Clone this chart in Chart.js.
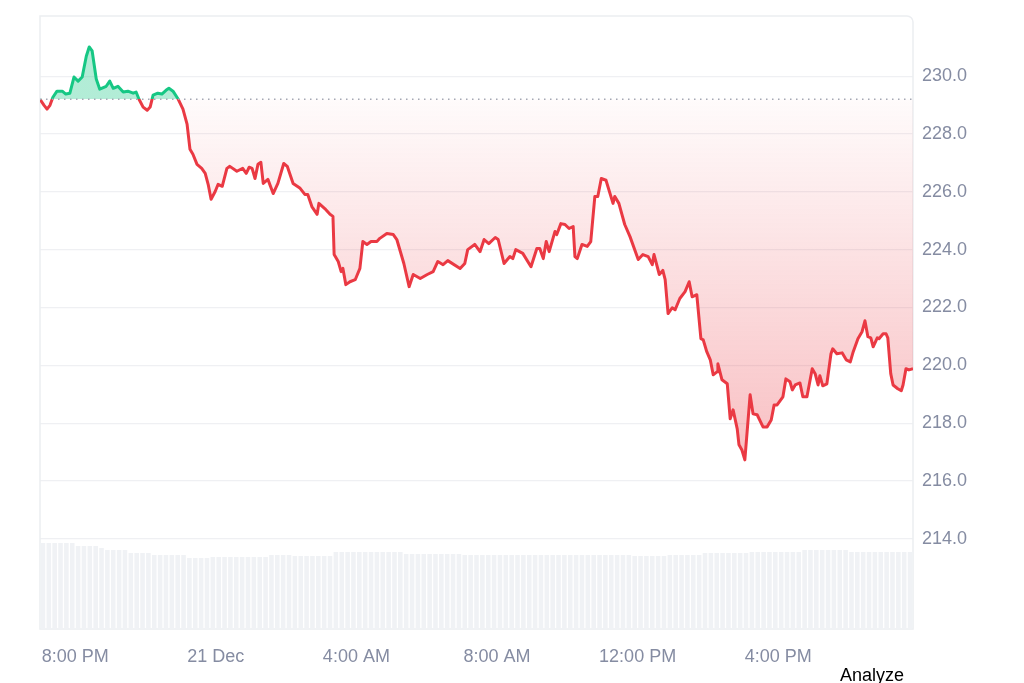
<!DOCTYPE html>
<html>
<head>
<meta charset="utf-8">
<title>Price chart</title>
<script src="https://cdn.jsdelivr.net/npm/chart.js@4.4.1/dist/chart.umd.min.js"></script>
<style>
    html, body { margin: 0; padding: 0; background: #ffffff; }
    #wrap { position: relative; width: 1024px; height: 683px; overflow: hidden; }
    #analyze { position: absolute; left: 840px; top: 666px; font: 18px Arial, "Liberation Sans", sans-serif; line-height: 18px; color: #000000; }
</style>
</head>
<body>
<div id="wrap">
    <canvas id="priceChart" width="1024" height="683"></canvas>
    <div id="analyze">Analyze</div>
</div>
<script>
// minutes after 19:00 on 20 Dec
const priceTimes = [0,7,12,17,22,29,38,44,51,58,65,72,79,84,89,96,102,113,119,125,133,142,150,159,164,169,176,183,188,193,201,208,215,220,227,236,244,251,256,261,268,276,282,287,292,299,304,311,319,324,336,346,352,357,362,367,372,377,381,389,398,406,416,422,432,444,452,457,464,473,476,486,495,500,502,509,514,517,522,529,538,546,551,558,565,575,580,592,603,609,621,630,637,649,661,671,679,688,696,717,725,730,742,751,758,766,777,782,792,802,807,812,824,838,848,853,859,864,869,879,882,889,896,903,910,913,917,925,934,940,947,952,958,966,978,981,988,998,1007,1021,1029,1038,1045,1048,1057,1063,1067,1072,1079,1084,1092,1101,1108,1113,1121,1128,1132,1138,1144,1149,1156,1157,1164,1173,1178,1183,1190,1193,1198,1203,1212,1217,1224,1234,1241,1248,1253,1258,1268,1273,1280,1284,1289,1297,1302,1309,1318,1323,1328,1331,1336,1343,1350,1353,1360,1369,1376,1383,1388,1396,1403,1408,1413,1418,1422,1429,1432,1439,1444,1447,1452,1456,1464,1470,1473,1478,1483,1490];
const priceValues = [229.20,228.99,228.86,228.99,229.27,229.48,229.48,229.38,229.41,229.97,229.83,229.97,230.69,231.01,230.87,229.90,229.55,229.65,229.83,229.58,229.65,229.45,229.48,229.41,229.45,229.20,228.93,228.82,228.93,229.34,229.41,229.38,229.51,229.58,229.48,229.20,228.86,228.34,227.47,227.30,226.95,226.81,226.64,226.26,225.74,226.01,226.26,226.19,226.81,226.88,226.71,226.81,226.64,226.85,226.81,226.46,226.95,227.02,226.29,226.43,225.94,226.29,226.98,226.88,226.29,226.12,225.91,225.91,225.49,225.22,225.60,225.42,225.22,225.15,223.83,223.59,223.24,223.35,222.79,222.89,222.96,223.35,224.28,224.18,224.28,224.28,224.39,224.56,224.52,224.35,223.52,222.72,223.14,223.00,223.14,223.24,223.59,223.48,223.62,223.35,223.52,224.00,224.18,223.93,224.35,224.21,224.42,224.35,223.52,223.76,223.69,224.00,223.87,223.41,224.04,224.04,223.69,224.28,223.93,224.63,224.52,224.90,224.87,224.73,224.80,223.76,223.69,224.18,224.11,224.28,225.84,225.84,226.46,226.40,225.60,225.84,225.60,224.87,224.45,223.66,223.83,223.76,223.48,223.83,223.14,223.28,222.96,221.79,221.99,221.92,222.31,222.55,222.89,222.37,222.44,220.92,220.88,220.47,220.19,219.67,219.78,220.05,219.50,219.36,218.15,218.46,217.80,217.25,217.07,216.73,218.98,218.32,218.29,217.87,217.87,218.11,218.63,218.63,218.91,219.53,219.43,219.15,219.32,219.39,218.91,218.91,219.88,219.71,219.32,219.64,219.29,219.36,220.40,220.57,220.40,220.43,220.19,220.12,220.47,220.92,221.16,221.54,220.99,220.95,220.64,220.95,220.92,221.09,221.09,220.95,219.71,219.32,219.19,219.12,219.32,219.88,219.84,219.88];

// volume per 10-minute bar
const volumeValues = [
    8.6,8.6,8.6,8.6,8.6,8.6, 8.3,8.3,8.3,8.3, 8.1, 7.9,7.9,7.9,7.9,
    7.6,7.6,7.6,7.6, 7.4,7.4,7.4,7.4,7.4,7.4, 7.1,7.1,7.1,7.1,
    7.2,7.2,7.2,7.2,7.2,7.2,7.2,7.2,7.2,7.2, 7.4,7.4,7.4,7.4,
    7.3,7.3,7.3,7.3,7.3,7.3,7.3, 7.7,7.7,7.7,7.7,7.7,7.7,7.7,7.7,7.7,7.7,7.7,7.7,
    7.5,7.5,7.5,7.5,7.5,7.5,7.5,7.5,7.5,7.5,
    7.4,7.4,7.4,7.4,7.4,7.4,7.4,7.4,7.4,7.4,7.4,7.4,7.4,7.4,7.4,7.4,7.4,7.4,7.4,7.4,7.4,7.4,7.4,7.4,
    7.4,7.4,7.4,7.4,7.4,7.3,7.3,7.3,7.3,7.3,7.3,7.4,7.4,7.4,7.4,7.4,7.4,
    7.6,7.6,7.6,7.6,7.6,7.6,7.6,7.6, 7.7,7.7,7.7,7.7,7.7,7.7,7.7,7.7,7.7,
    7.9,7.9,7.9,7.9,7.9,7.9,7.9,7.9, 7.7,7.7,7.7,7.7,7.7,7.7,7.7,7.7,7.7,7.7,7.7
];
const volumeTimes = volumeValues.map((v, i) => 5 + i * 10);

const xTickValues = [60, 300, 540, 780, 1020, 1260];
const xTickLabels = ['8:00 PM', '21 Dec', '4:00 AM', '8:00 AM', '12:00 PM', '4:00 PM'];
const yTickValues = [214, 216, 218, 220, 222, 224, 226, 228, 230];

const OPEN_PRICE = 229.2;
const X_MIN = 0, X_MAX = 1490;
const Y_MIN = 210.88, Y_MAX = 232.08;
const VOL_MAX = 61.3;

const GREEN = '#16c784';
const RED = '#ea3943';
const LABEL_COLOR = '#858ca2';
const LABEL_FONT = { family: 'Arial, "Liberation Sans", sans-serif', size: 18 };

function baseFraction(chart) {
    const area = chart.chartArea;
    const y = chart.scales.y.getPixelForValue(OPEN_PRICE);
    return Math.min(1, Math.max(0, (y - area.top) / (area.bottom - area.top)));
}

function strokeColor(context) {
    const chart = context.chart;
    if (!chart.chartArea || !chart.scales.y) return RED;
    const area = chart.chartArea;
    const f = baseFraction(chart);
    const g = chart.ctx.createLinearGradient(0, area.top, 0, area.bottom);
    g.addColorStop(0, GREEN);
    g.addColorStop(f, GREEN);
    g.addColorStop(f, RED);
    g.addColorStop(1, RED);
    return g;
}

function fillColor(context) {
    const chart = context.chart;
    if (!chart.chartArea || !chart.scales.y) return 'rgba(234,57,67,0.1)';
    const area = chart.chartArea;
    const f = baseFraction(chart);
    const lowY = chart.scales.y.getPixelForValue(Math.min(...priceValues));
    const fl = Math.min(1, Math.max(f, (lowY - area.top) / (area.bottom - area.top)));
    const g = chart.ctx.createLinearGradient(0, area.top, 0, area.bottom);
    g.addColorStop(0, 'rgba(22,199,132,0.33)');
    g.addColorStop(f, 'rgba(22,199,132,0.33)');
    g.addColorStop(f, 'rgba(234,57,67,0.02)');
    g.addColorStop(fl, 'rgba(234,57,67,0.32)');
    g.addColorStop(1, 'rgba(234,57,67,0.32)');
    return g;
}

// light frame round the plot area
const framePlugin = {
    id: 'frame',
    beforeDatasetsDraw(chart) {
        const { ctx, chartArea } = chart;
        ctx.save();
        ctx.strokeStyle = '#eceef1';
        ctx.lineWidth = 1.5;
        ctx.beginPath();
        if (ctx.roundRect) {
            ctx.roundRect(chartArea.left, chartArea.top, chartArea.right - chartArea.left, chartArea.bottom - chartArea.top, [0, 6, 0, 0]);
        } else {
            ctx.rect(chartArea.left, chartArea.top, chartArea.right - chartArea.left, chartArea.bottom - chartArea.top);
        }
        ctx.stroke();
        ctx.restore();
    }
};

const ctx = document.getElementById('priceChart').getContext('2d');
new Chart(ctx, {
    type: 'line',
    data: {
        datasets: [
            {
                type: 'line',
                label: 'Open',
                data: [{ x: X_MIN, y: OPEN_PRICE }, { x: X_MAX, y: OPEN_PRICE }],
                borderColor: '#a4a8b4',
                borderWidth: 1.5,
                borderDash: [1.5, 4.5],
                pointRadius: 0,
                fill: false,
                yAxisID: 'y',
                order: 0
            },
            {
                type: 'line',
                label: 'Price',
                data: priceTimes.map((t, i) => ({ x: t, y: priceValues[i] })),
                borderColor: strokeColor,
                backgroundColor: fillColor,
                borderWidth: 3,
                borderJoinStyle: 'round',
                pointRadius: 0,
                tension: 0,
                fill: { target: { value: OPEN_PRICE } },
                yAxisID: 'y',
                order: 1
            },
            {
                type: 'bar',
                label: 'Volume',
                data: volumeTimes.map((t, i) => ({ x: t, y: volumeValues[i] })),
                backgroundColor: '#f0f2f5',
                barPercentage: 0.78,
                categoryPercentage: 1,
                yAxisID: 'yVol',
                order: 3
            }
        ]
    },
    options: {
        responsive: false,
        animation: false,
        devicePixelRatio: 1,
        layout: { padding: { left: 40, top: 16, right: 0, bottom: 0 } },
        plugins: {
            legend: { display: false },
            tooltip: { enabled: false }
        },
        scales: {
            x: {
                type: 'linear',
                offset: false,
                min: X_MIN,
                max: X_MAX,
                afterBuildTicks: scale => { scale.ticks = xTickValues.map(v => ({ value: v })); },
                afterFit: scale => { scale.height = 54; scale.paddingLeft = 0; scale.paddingRight = 0; },
                ticks: {
                    autoSkip: false,
                    maxRotation: 0,
                    padding: 17,
                    color: LABEL_COLOR,
                    font: LABEL_FONT,
                    callback: value => xTickLabels[xTickValues.indexOf(value)] || ''
                },
                grid: { display: false, drawTicks: false },
                border: { display: false }
            },
            y: {
                position: 'right',
                min: Y_MIN,
                max: Y_MAX,
                afterBuildTicks: scale => { scale.ticks = yTickValues.map(v => ({ value: v })); },
                afterFit: scale => { scale.width = 111; scale.paddingTop = 0; scale.paddingBottom = 0; },
                ticks: {
                    padding: 9,
                    color: LABEL_COLOR,
                    font: LABEL_FONT,
                    callback: value => Number(value).toFixed(1)
                },
                grid: { color: '#eff0f3', lineWidth: 1.2, drawTicks: false },
                border: { display: false }
            },
            yVol: {
                display: false,
                min: 0,
                max: VOL_MAX
            }
        }
    },
    plugins: [framePlugin]
});
</script>
</body>
</html>
